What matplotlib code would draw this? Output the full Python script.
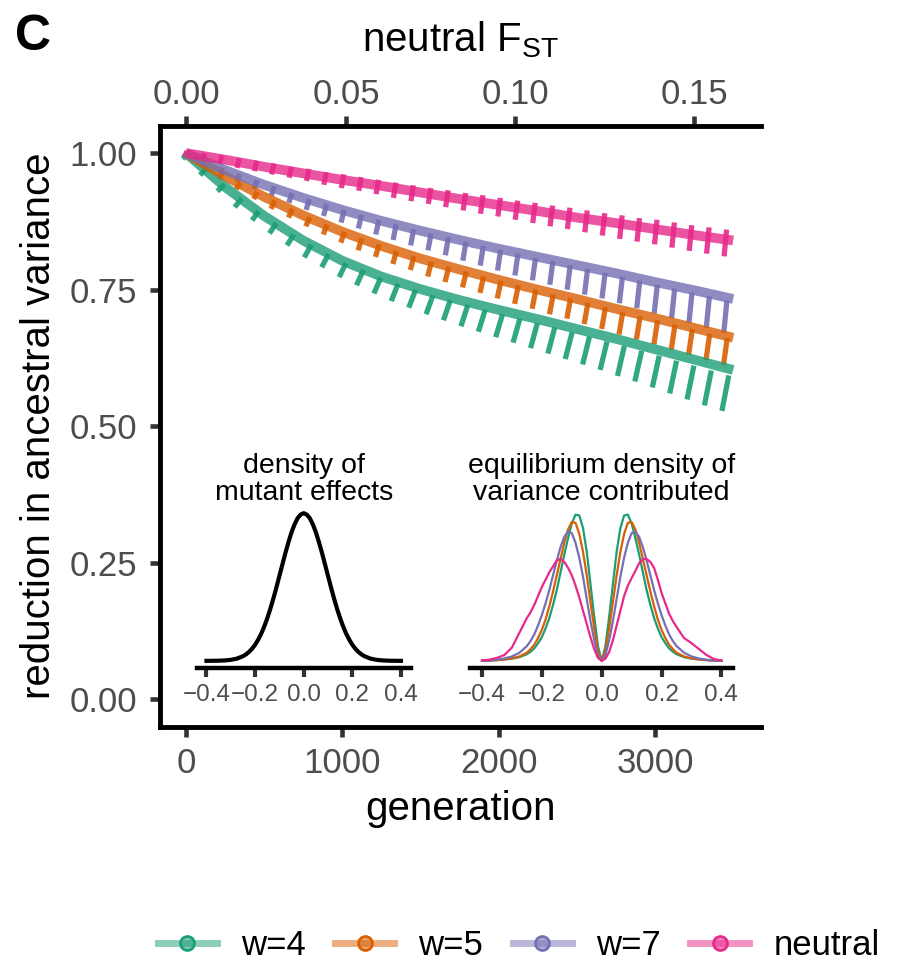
import numpy as np
import matplotlib
matplotlib.use('Agg')
from matplotlib import pyplot as plt
from matplotlib.collections import LineCollection
from matplotlib.lines import Line2D
from matplotlib.ticker import FormatStrFormatter

plt.rcParams['font.family'] = ['Liberation Sans', 'DejaVu Sans']
plt.rcParams['mathtext.fontset'] = 'custom'
plt.rcParams['mathtext.rm'] = 'Liberation Sans'

labels = ['w=4', 'w=5', 'w=7', 'neutral']
colors = ['#1B9E77', '#D95F02', '#7570B3', '#E7298A']

# theory (solid bands)
theory_gen = [0, 250, 500, 750, 1000, 1250, 1500, 1750, 2000, 2250, 2500, 2750, 3000, 3250, 3500]
theory_w4 = [1.000, 0.938, 0.885, 0.840, 0.803, 0.774, 0.751, 0.731, 0.713, 0.696, 0.678, 0.660, 0.641, 0.622, 0.603]
theory_w5 = [1.000, 0.958, 0.920, 0.886, 0.856, 0.830, 0.807, 0.787, 0.768, 0.750, 0.733, 0.715, 0.698, 0.680, 0.662]
theory_w7 = [1.000, 0.969, 0.942, 0.918, 0.896, 0.876, 0.858, 0.841, 0.825, 0.810, 0.795, 0.780, 0.764, 0.749, 0.733]
theory_neu = [1.000, 0.988, 0.975, 0.963, 0.951, 0.940, 0.928, 0.916, 0.905, 0.894, 0.882, 0.872, 0.861, 0.850, 0.840]

# simulations (range over replicates at each sampled generation)
sim_gen = [0, 111, 223, 334, 445, 556, 668, 779, 890, 1002, 1113, 1224, 1335, 1447, 1558, 1669,
           1781, 1892, 2003, 2114, 2226, 2337, 2448, 2559, 2671, 2782, 2893, 3005, 3116, 3227, 3338, 3450]
sim_hi_w4 = [1.000, 0.972, 0.943, 0.917, 0.894, 0.872, 0.851, 0.832, 0.815, 0.799, 0.786, 0.772, 0.761, 0.750, 0.740, 0.731,
             0.722, 0.713, 0.705, 0.697, 0.689, 0.681, 0.672, 0.664, 0.655, 0.647, 0.638, 0.629, 0.620, 0.611, 0.602, 0.593]
sim_lo_w4 = [0.990, 0.960, 0.930, 0.901, 0.877, 0.853, 0.831, 0.809, 0.791, 0.773, 0.758, 0.743, 0.729, 0.717, 0.705, 0.694,
             0.683, 0.673, 0.663, 0.653, 0.643, 0.633, 0.623, 0.613, 0.603, 0.592, 0.582, 0.571, 0.560, 0.549, 0.538, 0.528]
sim_hi_w5 = [1.000, 0.983, 0.964, 0.946, 0.929, 0.913, 0.898, 0.883, 0.869, 0.856, 0.844, 0.833, 0.821, 0.811, 0.801, 0.792,
             0.783, 0.774, 0.766, 0.758, 0.750, 0.741, 0.734, 0.726, 0.718, 0.709, 0.701, 0.694, 0.686, 0.678, 0.669, 0.661]
sim_lo_w5 = [0.994, 0.973, 0.953, 0.934, 0.916, 0.898, 0.882, 0.866, 0.851, 0.836, 0.822, 0.810, 0.797, 0.786, 0.774, 0.764,
             0.754, 0.744, 0.734, 0.724, 0.715, 0.705, 0.697, 0.687, 0.678, 0.668, 0.659, 0.650, 0.640, 0.631, 0.621, 0.612]
sim_hi_w7 = [1.000, 0.989, 0.974, 0.962, 0.950, 0.939, 0.927, 0.916, 0.907, 0.896, 0.887, 0.878, 0.870, 0.861, 0.853, 0.846,
             0.838, 0.830, 0.823, 0.816, 0.808, 0.802, 0.795, 0.788, 0.781, 0.774, 0.767, 0.759, 0.752, 0.745, 0.738, 0.730]
sim_lo_w7 = [0.994, 0.978, 0.962, 0.948, 0.934, 0.922, 0.909, 0.896, 0.885, 0.873, 0.862, 0.851, 0.841, 0.831, 0.822, 0.813,
             0.803, 0.794, 0.785, 0.776, 0.767, 0.759, 0.750, 0.741, 0.734, 0.725, 0.716, 0.707, 0.698, 0.689, 0.680, 0.671]
sim_hi_neu = [1.004, 1.000, 0.996, 0.990, 0.986, 0.981, 0.975, 0.971, 0.965, 0.961, 0.956, 0.951, 0.946, 0.941, 0.936, 0.932,
              0.927, 0.923, 0.918, 0.913, 0.909, 0.904, 0.900, 0.895, 0.890, 0.886, 0.881, 0.878, 0.873, 0.868, 0.864, 0.860]
sim_lo_neu = [0.993, 0.985, 0.980, 0.973, 0.967, 0.961, 0.955, 0.949, 0.942, 0.936, 0.931, 0.925, 0.918, 0.912, 0.907, 0.901,
              0.895, 0.889, 0.884, 0.878, 0.872, 0.866, 0.861, 0.855, 0.849, 0.843, 0.838, 0.833, 0.827, 0.821, 0.816, 0.811]

# inset densities (coarse in the tails, finer in the middle)
dens_x = np.concatenate([np.linspace(-0.4, -0.275, 6), np.linspace(-0.25, 0.25, 41), np.linspace(0.275, 0.4, 6)])
mutant_dens = [0.0001, 0.0004, 0.0011, 0.0029, 0.0068, 0.0152, 0.0313, 0.0439, 0.0605, 0.082, 0.109, 0.143, 0.183,
               0.232, 0.288, 0.351, 0.421, 0.496, 0.575, 0.654, 0.732, 0.805, 0.871, 0.925, 0.966, 0.991, 1.0,
               0.991, 0.966, 0.925, 0.871, 0.805, 0.732, 0.654, 0.575, 0.496, 0.421, 0.351, 0.288, 0.232, 0.183,
               0.143, 0.109, 0.082, 0.0605, 0.0439, 0.0313, 0.0152, 0.0068, 0.0029, 0.0011, 0.0004, 0.0001]
eq_w4 = [0, .002, .005, .009, .015, .025, .045, .062, .085, .12, .16, .22, .29, .38, .48, .60, .72, .83, .93, .99,
         .985, .90, .74, .52, .30, .10, 0,
         .10, .30, .52, .74, .90, .985, .99, .93, .83, .72, .60, .48, .38, .29, .22, .16, .12, .085, .062, .045,
         .025, .015, .009, .005, .002, 0]
eq_w5 = [0, .002, .005, .01, .017, .03, .055, .08, .11, .155, .21, .28, .37, .47, .58, .69, .80, .89, .94, .935,
         .86, .74, .58, .40, .22, .07, 0,
         .07, .22, .40, .58, .74, .86, .935, .94, .89, .80, .69, .58, .47, .37, .28, .21, .155, .11, .08, .055,
         .03, .017, .01, .005, .002, 0]
eq_w7 = [0, .003, .008, .016, .03, .055, .10, .135, .18, .24, .31, .39, .48, .58, .68, .77, .84, .875, .865, .80,
         .70, .57, .42, .27, .14, .04, 0,
         .04, .14, .27, .42, .57, .70, .80, .865, .875, .84, .77, .68, .58, .48, .39, .31, .24, .18, .135, .10,
         .055, .03, .016, .008, .003, 0]
eq_neu = [.003, .008, .02, .04, .09, .19, .29, .33, .38, .44, .50, .55, .60, .64, .68, .69, .67, .63, .58, .51,
          .43, .34, .25, .16, .08, .02, 0,
          .015, .06, .14, .24, .34, .44, .51, .56, .61, .66, .69, .69, .67, .63, .55, .46, .39, .32, .27, .23,
          .155, .12, .08, .04, .012, .003]

two_N = 20000.0


def gen_to_fst(t):
    return 1 - np.exp(-np.asarray(t, dtype=float) / two_N)


def fst_to_gen(f):
    f = np.clip(np.asarray(f, dtype=float), -1, 0.999)
    return -two_N * np.log(1 - f)


tick_col = '#333333'
lab_col = '#4D4D4D'

fig = plt.figure(figsize=(9.07, 9.64), dpi=100)
ax = fig.add_axes([0.1764, 0.2462, 0.6621, 0.6233])

theories = [theory_w4, theory_w5, theory_w7, theory_neu]
sims = [(sim_lo_w4, sim_hi_w4), (sim_lo_w5, sim_hi_w5), (sim_lo_w7, sim_hi_w7), (sim_lo_neu, sim_hi_neu)]
slant = [22, 12, 10, 8]
for th, (lo, hi), c, s in zip(theories, sims, colors, slant):
    segs = [[(t - s, a), (t + s, b)] for t, a, b in zip(sim_gen, lo, hi)]
    ax.add_collection(LineCollection(segs, colors=c, linewidths=3.8, alpha=0.9, zorder=2))
    ax.plot(theory_gen, th, color=c, lw=7, alpha=0.8, solid_capstyle='butt', zorder=3)

ax.set_xlim(-166, 3675)
ax.set_ylim(-0.05, 1.05)
ax.set_xticks([0, 1000, 2000, 3000])
ax.set_yticks([0, 0.25, 0.5, 0.75, 1.0])
ax.yaxis.set_major_formatter(FormatStrFormatter('%.2f'))
for sp in ['top', 'right']:
    ax.spines[sp].set_visible(False)
for sp in ['left', 'bottom']:
    ax.spines[sp].set_linewidth(3.5)
    ax.spines[sp].set_capstyle('projecting')
ax.tick_params(length=7.5, width=3.3, color=tick_col, labelsize=25, labelcolor=lab_col)
ax.tick_params(axis='x', pad=7)
ax.tick_params(axis='y', pad=9)
ax.set_xlabel('generation', fontsize=29, labelpad=7)
ax.set_ylabel('reduction in ancestral variance', fontsize=29, labelpad=8)

sec = ax.secondary_xaxis('top', functions=(gen_to_fst, fst_to_gen))
sec.set_xticks([0, 0.05, 0.10, 0.15])
sec.xaxis.set_major_formatter(FormatStrFormatter('%.2f'))
sec.spines['top'].set_linewidth(3.5)
sec.spines['top'].set_capstyle('projecting')
sec.tick_params(length=7.5, width=3.3, color=tick_col, labelsize=25, labelcolor=lab_col, pad=3)
sec.set_xlabel('neutral F$_{\\mathrm{ST}}$', fontsize=29, labelpad=19)


# insets
def style_inset(a):
    a.set_facecolor('none')
    for sp in ['top', 'right', 'left']:
        a.spines[sp].set_visible(False)
    a.spines['bottom'].set_linewidth(3.2)
    a.set_yticks([])
    a.set_xlim(-0.44, 0.44)
    a.set_ylim(-0.05, 1.05)
    a.set_xticks([-0.4, -0.2, 0.0, 0.2, 0.4])
    a.set_xticklabels(['\u22120.4', '\u22120.2', '0.0', '0.2', '0.4'])
    a.tick_params(axis='x', length=6.5, width=3.0, color=tick_col, labelsize=17.5, labelcolor=lab_col, pad=5)


ins1 = fig.add_axes([0.2169, 0.3068, 0.2359, 0.1685])
style_inset(ins1)
ins1.plot(dens_x, mutant_dens, color='black', lw=3.0)
ins1.set_title('density of\nmutant effects', fontsize=20.5, pad=4, linespacing=1.05)

ins2 = fig.add_axes([0.5182, 0.3068, 0.2904, 0.1685])
style_inset(ins2)
for d, c in zip([eq_w4, eq_w5, eq_w7, eq_neu], colors):
    ins2.plot(dens_x, d, color=c, lw=1.6)
ins2.set_title('equilibrium density of\nvariance contributed', fontsize=20.5, pad=4, linespacing=1.05)

fig.text(0.017, 0.985, 'C', fontsize=36, fontweight='bold', va='top', ha='left')

handles = []
for c in colors:
    rgb = matplotlib.colors.to_rgb(c)
    handles.append(Line2D([], [], color=rgb + (0.5,), lw=5, marker='o', markersize=10,
                          markerfacecolor=rgb + (0.55,), markeredgecolor=c, markeredgewidth=2))
fig.legend(handles, labels, loc='center', bbox_to_anchor=(0.572, 0.019), ncol=4, frameon=False,
           fontsize=25, handlelength=1.7, handletextpad=0.7, columnspacing=0.85)

fig.savefig('out.png', dpi=100)
